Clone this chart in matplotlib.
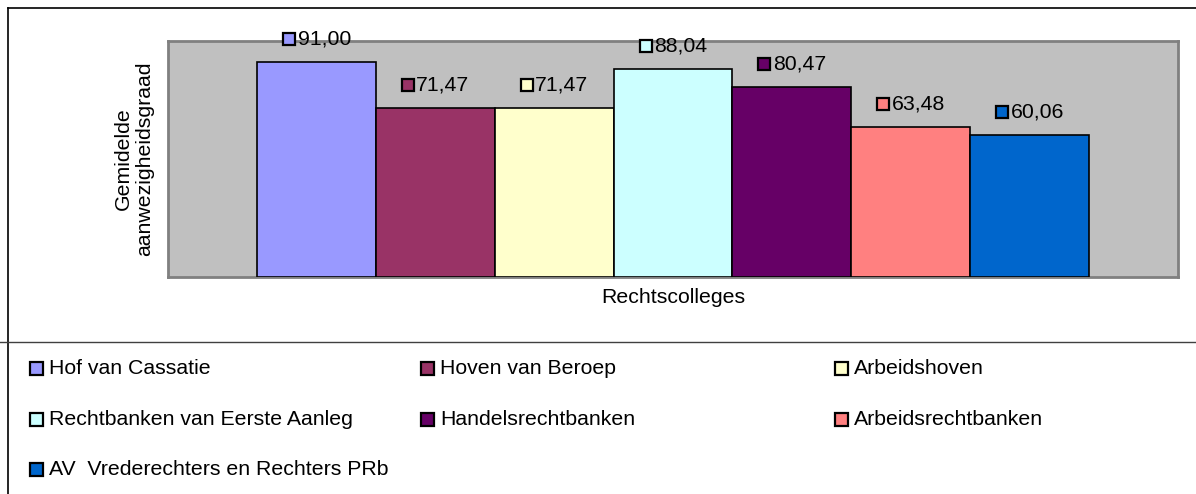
import matplotlib
matplotlib.use("Agg")
import matplotlib.pyplot as plt
from matplotlib.patches import Rectangle
from matplotlib.transforms import offset_copy
import numpy as np

plt.rcParams['font.family'] = ['Liberation Sans', 'DejaVu Sans']

# data
colleges = ["Hof van Cassatie", "Hoven van Beroep", "Arbeidshoven",
            "Rechtbanken van Eerste Aanleg", "Handelsrechtbanken",
            "Arbeidsrechtbanken", "AV  Vrederechters en Rechters PRb"]
waarden = [91.00, 71.47, 71.47, 88.04, 80.47, 63.48, 60.06]
kleuren = ["#9999FF", "#993366", "#FFFFCC", "#CCFFFF", "#660066", "#FF8080", "#0066CC"]
labels = [f"{v:.2f}".replace(".", ",") for v in waarden]

W, H = 1196, 494
fig = plt.figure(figsize=(W / 100, H / 100), dpi=100)

# overlay in pixel coords for frame, titles and legend
ov = fig.add_axes([0, 0, 1, 1])
ov.set_xlim(0, W)
ov.set_ylim(H, 0)
ov.axis("off")
ov.plot([8, W + 5], [8, 8], color="black", lw=1.2)
ov.plot([8, 8], [8, H + 5], color="black", lw=1.2)
ov.plot([0, W], [341.5, 341.5], color="#404040", lw=1.0)

# plot area
ax = fig.add_axes([168 / W, 1 - 277 / H, 1010 / W, 236 / H])
ax.set_facecolor("#C0C0C0")
for s in ax.spines.values():
    s.set_color("#808080")
    s.set_linewidth(2)
x = np.arange(len(waarden))
ax.bar(x, waarden, width=1.0, color=kleuren, edgecolor="black", linewidth=1.2, zorder=3)
ax.set_xlim(-0.5 - 0.75, len(waarden) - 0.5 + 0.75)
ax.set_ylim(0, 100)
ax.set_xticks([])
ax.set_yticks([])

fs = 15.3
for xi, v, lab, c in zip(x, waarden, labels, kleuren):
    tsq = offset_copy(ax.transData, fig=fig, x=-27.5, y=23, units='dots')
    ax.plot([xi], [v], marker="s", ms=8.5, mfc=c, mec="black", mew=1.6,
            transform=tsq, zorder=5, clip_on=False)
    tt = offset_copy(ax.transData, fig=fig, x=-19, y=23, units='dots')
    ax.text(xi, v, lab, transform=tt, ha="left", va="center", fontsize=fs,
            zorder=5, clip_on=False)

ov.text(134, 159, "Gemidelde\naanwezigheidsgraad", rotation=90, ha="center",
        va="center", fontsize=fs, linespacing=1.15)
ov.text(673, 297, "Rechtscolleges", ha="center", va="center", fontsize=fs)

# legend
col_x = [29, 420, 834]
row_y = [368, 419, 469]
for i, (naam, c) in enumerate(zip(colleges, kleuren)):
    cx = col_x[i % 3]
    cy = row_y[i // 3]
    ov.add_patch(Rectangle((cx + 0.5, cy - 6.5), 13, 13, facecolor=c, edgecolor="black", lw=1.6))
    ov.text(cx + 20, cy, naam, ha="left", va="center", fontsize=fs)

fig.savefig("out.png", dpi=100)
